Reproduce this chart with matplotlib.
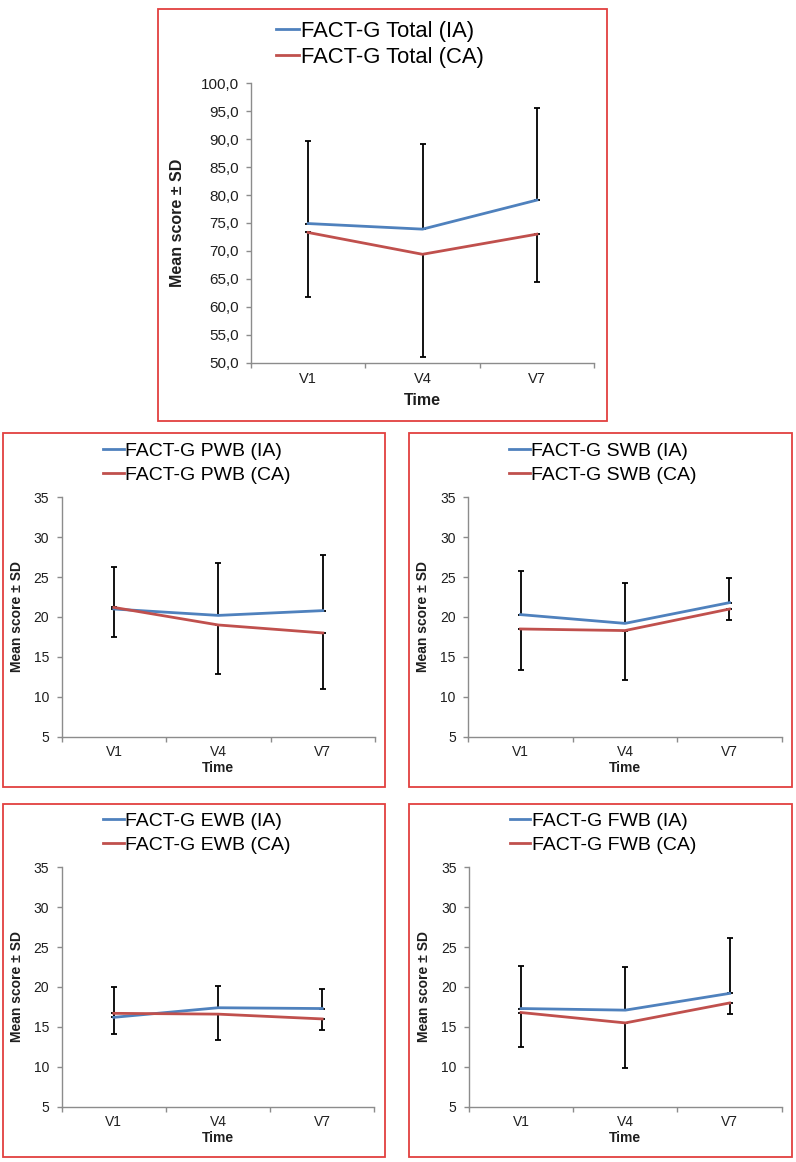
import matplotlib
matplotlib.use("Agg")
import matplotlib.pyplot as plt
from matplotlib.patches import Rectangle
from matplotlib.lines import Line2D
from matplotlib.ticker import FixedLocator, FuncFormatter

plt.rcParams['font.family'] = ['Liberation Sans', 'DejaVu Sans']

# ---------------- data ----------------
times = ["V1", "V4", "V7"]

total_ia = [74.9, 73.9, 79.1]
total_ia_sd = [14.8, 15.2, 16.4]
total_ca = [73.3, 69.4, 73.0]
total_ca_sd = [11.5, 18.4, 8.5]

pwb_ia = [21.0, 20.2, 20.8]
pwb_ia_sd = [5.3, 6.6, 7.0]
pwb_ca = [21.2, 19.0, 18.0]
pwb_ca_sd = [3.7, 6.1, 7.0]

swb_ia = [20.3, 19.2, 21.8]
swb_ia_sd = [5.5, 5.0, 3.1]
swb_ca = [18.5, 18.3, 21.0]
swb_ca_sd = [5.1, 6.2, 1.4]

ewb_ia = [16.2, 17.4, 17.3]
ewb_ia_sd = [3.8, 2.7, 2.4]
ewb_ca = [16.7, 16.6, 16.0]
ewb_ca_sd = [2.55, 3.2, 1.4]

fwb_ia = [17.3, 17.1, 19.2]
fwb_ia_sd = [5.3, 5.4, 7.0]
fwb_ca = [16.8, 15.5, 18.0]
fwb_ca_sd = [4.3, 5.7, 1.4]

# ---------------- style ----------------
W, H = 796, 1162
DPI = 100
BLUE = "#4F81BD"
RED = "#C0504D"
FRAME = "#E2403F"
AXC = "#8C8C8C"
TXT = "#1E1E1E"

fig = plt.figure(figsize=(W / DPI, H / DPI), dpi=DPI)
fig.patch.set_facecolor("white")


def fx(px):
    return px / W


def fy(py):
    return 1 - py / H


def frame(x0, y0, x1, y1):
    r = Rectangle((fx(x0), fy(y1)), fx(x1) - fx(x0), fy(y0) - fy(y1),
                  transform=fig.transFigure, fill=False, edgecolor=FRAME,
                  linewidth=1.3, zorder=0)
    fig.add_artist(r)


def panel(box, ia, ia_sd, ca, ca_sd, name, ylim, yticks, fmt, legcenter,
          legsize, legspace, ticksize, catsize, labsize, ylab_x, time_y, cat_y):
    x0, y0, x1, y1 = box
    ax = fig.add_axes([fx(x0), fy(y1), fx(x1) - fx(x0), fy(y0) - fy(y1)])
    xs = [i + 0.5 for i in range(len(times))]
    # error bars: +SD for IA, -SD for CA
    ax.errorbar(xs, ia, yerr=[[0] * 3, ia_sd], fmt="none", ecolor="black",
                elinewidth=1.3, capsize=2.5, capthick=1.3, zorder=2)
    ax.errorbar(xs, ca, yerr=[ca_sd, [0] * 3], fmt="none", ecolor="black",
                elinewidth=1.3, capsize=2.5, capthick=1.3, zorder=2)
    ax.plot(xs, ia, color=BLUE, lw=2.0, zorder=3, solid_joinstyle="round")
    ax.plot(xs, ca, color=RED, lw=2.0, zorder=3, solid_joinstyle="round")
    ax.set_xlim(0, 3)
    ax.set_ylim(*ylim)
    for s in ["top", "right"]:
        ax.spines[s].set_visible(False)
    for s in ["left", "bottom"]:
        ax.spines[s].set_color(AXC)
        ax.spines[s].set_linewidth(1.0)
    ax.set_yticks(yticks)
    ax.yaxis.set_major_formatter(FuncFormatter(fmt))
    ax.tick_params(axis="y", direction="out", length=3.5, width=1.0,
                   color=AXC, labelsize=ticksize, labelcolor=TXT, pad=5.5)
    # category boundaries as ticks, labels at centers
    ax.xaxis.set_major_locator(FixedLocator([0, 1, 2, 3]))
    ax.xaxis.set_major_formatter(FuncFormatter(lambda v, p: ""))
    ax.tick_params(axis="x", which="major", direction="out", length=3.5,
                   width=1.0, color=AXC)
    for x, t in zip(xs, times):
        ax.annotate(t, xy=(x, 0), xycoords=("data", "axes fraction"),
                    xytext=(0, -cat_y), textcoords="offset pixels",
                    ha="center", va="center", fontsize=catsize, color=TXT)
    ax.annotate("Time", xy=(0.5, 0), xycoords="axes fraction",
                xytext=(0, -time_y), textcoords="offset pixels",
                ha="center", va="center", fontsize=labsize,
                fontweight="bold", color=TXT)
    ax.set_ylabel("Mean score ± SD", fontsize=labsize,
                  fontweight="bold", color=TXT)
    ax.yaxis.set_label_coords((ylab_x - x0) / (x1 - x0), 0.5)
    handles = [Line2D([], [], color=BLUE, lw=2.0),
               Line2D([], [], color=RED, lw=2.0)]
    ax.legend(handles, [f"FACT-G {name} (IA)", f"FACT-G {name} (CA)"],
              loc="center", bbox_to_anchor=(fx(legcenter[0]), fy(legcenter[1])),
              bbox_transform=fig.transFigure, frameon=False,
              fontsize=legsize, handlelength=1.05, handletextpad=0.08,
              labelspacing=legspace, borderpad=0, borderaxespad=0)
    return ax


f1 = lambda v, p: f"{v:.1f}".replace(".", ",")
f0 = lambda v, p: f"{v:.0f}"

small_ticks = [5, 10, 15, 20, 25, 30, 35]

# top panel
frame(158, 9, 607, 421)
panel((251, 83.3, 594, 362.7), total_ia, total_ia_sd, total_ca, total_ca_sd,
      "Total", (50, 100), [50, 55, 60, 65, 70, 75, 80, 85, 90, 95, 100], f1,
      (380, 44.5), 15.8, 0.22, 11.0, 10.5, 11.5, 185, 38, 16)

# PWB
frame(3, 433, 385, 787)
panel((61.7, 497.3, 375, 736.7), pwb_ia, pwb_ia_sd, pwb_ca, pwb_ca_sd,
      "PWB", (5, 35), small_ticks, f0, (197, 463), 14.0, 0.3, 10.0, 10.0, 10.0,
      23.5, 31, 15)

# SWB
frame(409, 433, 792, 787)
panel((468.3, 497.3, 781.7, 736.7), swb_ia, swb_ia_sd, swb_ca, swb_ca_sd,
      "SWB", (5, 35), small_ticks, f0, (603, 463), 14.0, 0.3, 10.0, 10.0, 10.0,
      430, 31, 15)

# EWB
frame(3, 804, 385, 1157)
panel((61.7, 867.3, 374.3, 1106.7), ewb_ia, ewb_ia_sd, ewb_ca, ewb_ca_sd,
      "EWB", (5, 35), small_ticks, f0, (197, 833), 14.0, 0.3, 10.0, 10.0, 10.0,
      23.5, 31, 15)

# FWB
frame(409, 804, 792, 1157)
panel((469, 867.3, 781.7, 1106.7), fwb_ia, fwb_ia_sd, fwb_ca, fwb_ca_sd,
      "FWB", (5, 35), small_ticks, f0, (603, 833), 14.0, 0.3, 10.0, 10.0, 10.0,
      431, 31, 15)

fig.savefig("out.png", dpi=DPI, facecolor="white")
